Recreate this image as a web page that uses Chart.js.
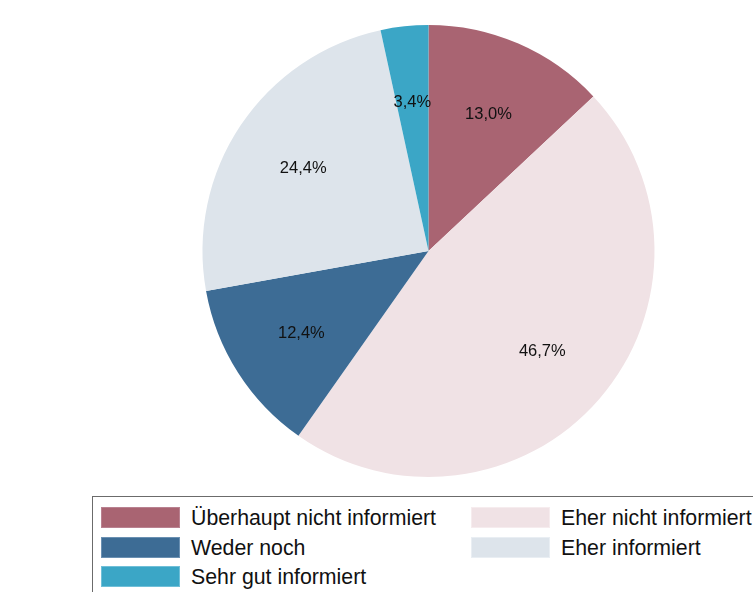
<!DOCTYPE html>
<html>
<head>
<meta charset="utf-8">
<script src="https://cdn.jsdelivr.net/npm/chart.js@4/dist/chart.umd.min.js"></script>
<style>
  html, body { margin:0; padding:0; background:#fff; overflow:hidden; }
  #wrap { position:relative; width:753px; height:592px; overflow:hidden; }
  #c { position:absolute; left:0; top:0; }
  #legend { position:absolute; left:92px; top:496px; width:720px; height:140px;
    border:1px solid #6b6b6b; box-sizing:border-box; background:#fff;
    font-family:"Liberation Sans", Arial, sans-serif; font-size:21.3px; color:#111; }
  .item { position:absolute; height:21px; }
  .sw { position:absolute; left:0; top:0; width:79px; height:21px; box-sizing:border-box; }
  .tx { position:absolute; left:90px; top:-1px; white-space:nowrap; line-height:24px; }
</style>
</head>
<body>
<div id="wrap">
  <canvas id="c" width="753" height="592"></canvas>
  <div id="legend"></div>
</div>
<script>
const categories = ["Überhaupt nicht informiert", "Eher nicht informiert", "Weder noch", "Eher informiert", "Sehr gut informiert"];
const values = [13.0, 46.7, 12.4, 24.4, 3.4];
const valueLabels = ["13,0%", "46,7%", "12,4%", "24,4%", "3,4%"];
const colors = ["#A96472", "#F0E2E5", "#3D6C95", "#DDE4EB", "#3BA6C6"];
const swatchBorders = ["#b98190", "#f6ecee", "#6a90b2", "#e9eef3", "#70bfd8"];
// legend layout order (column-major as in the reference)
const legendOrder = [0, 2, 4, 1, 3];

const labelPlugin = {
  id: 'sliceLabels',
  afterDatasetsDraw(chart) {
    const ctx = chart.ctx;
    const meta = chart.getDatasetMeta(0);
    ctx.save();
    ctx.font = '16.5px "Liberation Sans", Arial, sans-serif';
    ctx.fillStyle = '#111';
    ctx.textAlign = 'center';
    ctx.textBaseline = 'middle';
    meta.data.forEach((arc, i) => {
      const p = arc.getProps(['x','y','startAngle','endAngle','outerRadius'], true);
      const a = (p.startAngle + p.endAngle) / 2;
      const r = p.outerRadius * 0.667;
      ctx.fillText(valueLabels[i], p.x + Math.cos(a) * r, p.y + Math.sin(a) * r + 1.5);
    });
    ctx.restore();
  }
};

new Chart(document.getElementById('c'), {
  type: 'pie',
  data: {
    labels: categories,
    datasets: [{ data: values, backgroundColor: colors, borderWidth: 0 }]
  },
  options: {
    responsive: false,
    animation: false,
    layout: { padding: { top: 25, bottom: 115, left: 104, right: 0 } },
    plugins: { legend: { display: false }, tooltip: { enabled: false } }
  },
  plugins: [labelPlugin]
});

const legend = document.getElementById('legend');
legendOrder.forEach((idx, k) => {
  const col = k < 3 ? 0 : 1;
  const row = k < 3 ? k : k - 3;
  const it = document.createElement('div');
  it.className = 'item';
  it.style.left = (col === 0 ? 8 : 378) + 'px';
  it.style.top = (10 + row * 29.5) + 'px';
  const sw = document.createElement('div');
  sw.className = 'sw';
  sw.style.background = colors[idx];
  sw.style.border = '1px solid ' + swatchBorders[idx];
  const tx = document.createElement('div');
  tx.className = 'tx';
  tx.textContent = categories[idx];
  it.appendChild(sw); it.appendChild(tx);
  legend.appendChild(it);
});
</script>
</body>
</html>
